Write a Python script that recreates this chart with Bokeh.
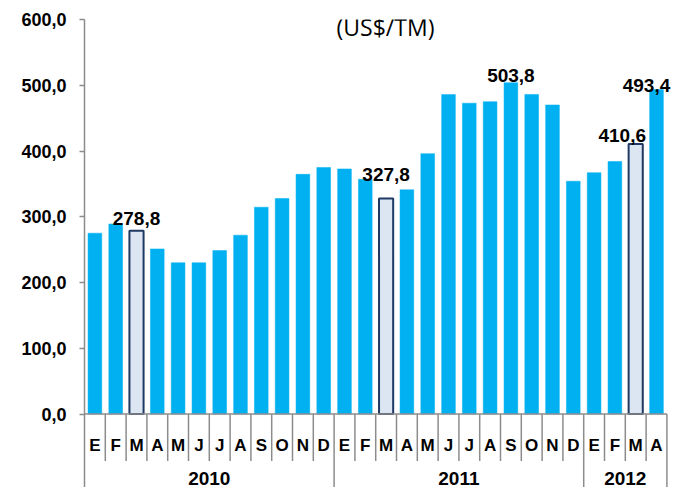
from bokeh.plotting import figure
from bokeh.models import Range1d, FixedTicker, CustomJSTickFormatter, Label, ColumnDataSource
from bokeh.core.properties import value
from bokeh.embed import file_html
from bokeh.resources import INLINE

# ---- data ----
months = ["E", "F", "M", "A", "M", "J", "J", "A", "S", "O", "N", "D",
          "E", "F", "M", "A", "M", "J", "J", "A", "S", "O", "N", "D",
          "E", "F", "M", "A"]
years = ["2010", "2011", "2012"]
year_counts = [12, 12, 4]
prices = [275.0, 289.0, 278.8, 251.0, 230.0, 230.0, 248.5, 272.0, 314.5, 327.7, 364.5, 375.0,
          372.7, 357.0, 327.8, 341.0, 396.0, 485.8, 472.7, 475.0, 503.8, 486.0, 470.0, 354.0,
          367.0, 384.0, 410.6, 493.4]
highlight_idx = [2, 14, 26]
labeled_idx = [2, 14, 20, 26, 27]
y_ticks = [0, 100, 200, 300, 400, 500, 600]
subtitle = "(US$/TM)"

# ---- layout constants (pixels) ----
W, H = 671, 487
LEFT, TOP = 84, 19
CAT_PX = 20.8
FRAME_W = W - LEFT
FRAME_H = H - TOP
PX = 394.5 / 600.0            # px per unit
Y_MIN = 600 - FRAME_H / PX
# label nudges (dx px, gap px above bar)
label_shift = {2: (0, 12), 14: (0, 24), 20: (0, 7), 26: (-13.5, 9), 27: (-10, 4)}

GRAY = "#8c8c8c"
BLUE = "#00B0F0"
LIGHT = "#DCE6F2"
NAVY = "#1F3864"
FONT = value("Liberation Sans")

n = len(prices)
p = figure(width=W, height=H, output_backend="svg", toolbar_location=None,
           x_range=Range1d(0, FRAME_W / CAT_PX), y_range=Range1d(Y_MIN, 600),
           min_border_left=LEFT, min_border_right=0, min_border_top=TOP, min_border_bottom=0)
p.xaxis.visible = False
p.grid.visible = False
p.outline_line_color = None
p.background_fill_color = "white"
p.border_fill_color = "white"

ya = p.yaxis[0]
ya.ticker = FixedTicker(ticks=y_ticks)
ya.formatter = CustomJSTickFormatter(code="return tick.toFixed(1).replace('.', ',');")
ya.axis_line_color = GRAY
ya.axis_line_width = 1.5
ya.major_tick_line_color = GRAY
ya.major_tick_line_width = 1.5
ya.major_tick_in = 0
ya.major_tick_out = 5
ya.minor_tick_in = 0
ya.minor_tick_out = 0
ya.minor_tick_line_color = None
ya.major_label_text_font = "Liberation Sans"
ya.major_label_text_font_style = "bold"
ya.major_label_text_font_size = "18px"
ya.major_label_text_color = "black"
ya.major_label_standoff = 13

xs = [i + 0.5 for i in range(n)]
norm = [i for i in range(n) if i not in highlight_idx]
src_n = ColumnDataSource(dict(x=[xs[i] for i in norm], top=[prices[i] for i in norm]))
src_h = ColumnDataSource(dict(x=[xs[i] for i in highlight_idx], top=[prices[i] for i in highlight_idx]))
p.vbar(x="x", top="top", bottom=0, width=0.66, source=src_n, fill_color=BLUE, line_color=BLUE, line_width=0.5)
p.vbar(x="x", top="top", bottom=0, width=0.68, source=src_h, fill_color=LIGHT, line_color=NAVY, line_width=2)

# horizontal axis line
p.segment(x0=[0], y0=[0], x1=[n], y1=[0], line_color=GRAY, line_width=1.5)

# separators
year_bounds = []
c = 0
for k in year_counts:
    c += k
    year_bounds.append(c)
month_bounds = [b for b in range(1, n) if b not in year_bounds]
p.segment(x0=month_bounds, y0=[0] * len(month_bounds), x1=month_bounds,
          y1=[-47 / PX] * len(month_bounds), line_color=GRAY, line_width=1.5)
p.segment(x0=year_bounds, y0=[0] * len(year_bounds), x1=year_bounds,
          y1=[Y_MIN] * len(year_bounds), line_color=GRAY, line_width=1.5)

# month labels
p.text(x=xs, y=[-31.5 / PX] * n, text=months, text_font=FONT, text_font_style="bold",
       text_font_size="17px", text_align="center", text_baseline="middle", text_color="black")

# year labels
yc = []
start = 0
for k in year_counts:
    yc.append(start + k / 2)
    start += k
p.text(x=yc, y=[-64 / PX] * len(years), text=years, text_font=FONT, text_font_style="bold",
       text_font_size="19px", text_align="center", text_baseline="middle", text_color="black")

# data labels
lx, ly, lt = [], [], []
for i in labeled_idx:
    dx, gap = label_shift.get(i, (0, 8))
    lx.append(xs[i] + dx / CAT_PX)
    ly.append(prices[i] + gap / PX)
    lt.append(f"{prices[i]:.1f}".replace(".", ","))
p.text(x=lx, y=ly, text=lt, text_font=FONT, text_font_style="bold", text_font_size="19px",
       text_align="center", text_baseline="alphabetic", text_color="black")

# subtitle
p.add_layout(Label(x=(385 - LEFT) / CAT_PX, y=600 - (26 - TOP) / PX, text=subtitle,
                   text_font="Open Sans", text_font_size="23px", text_align="center",
                   text_baseline="middle", text_color="black"))

open("out.html", "w").write(file_html(p, INLINE))
